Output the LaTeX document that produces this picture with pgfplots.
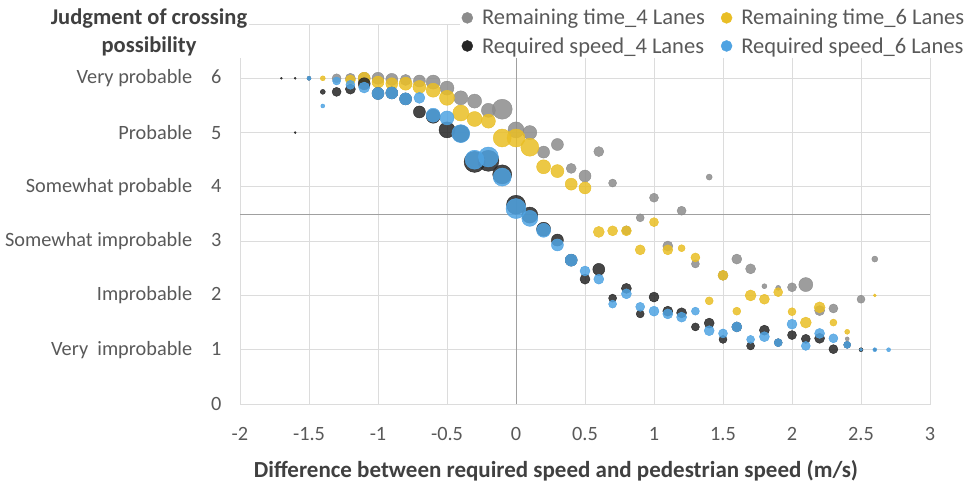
\documentclass[border=0pt]{standalone}
\usepackage{pgfplots}
\pgfplotsset{compat=1.18}
\usepackage{fontspec}
\setmainfont{Carlito}
\definecolor{gfour}{HTML}{8C8C8C}
\definecolor{ysix}{HTML}{E9BE25}
\definecolor{bfour}{HTML}{262626}
\definecolor{lsix}{HTML}{4FA3E2}
\definecolor{txt}{HTML}{595959}
\definecolor{ttl}{HTML}{404040}
\definecolor{grd}{HTML}{DCDCDC}
\definecolor{axl}{HTML}{A0A0A0}
\pgfplotsset{bub/.style={scatter, only marks, mark=*, forget plot, color=#1,
  mark options={draw=none, fill=#1, fill opacity=0.85},
  scatter/use mapped color={draw=none, fill=#1, fill opacity=0.85},
  visualization depends on={\thisrow{r}\as\bubr},
  scatter/@pre marker code/.append style={/tikz/mark size=\bubr pt}}}
\begin{document}
\begin{tikzpicture}[x=1pt,y=1pt]
\useasboundingbox (0,0) rectangle (968,490);
\begin{axis}[at={(240pt,86pt)}, anchor=south west, scale only axis,
  width=690pt, height=380pt, xmin=-2, xmax=3, ymin=0, ymax=7,
  xtick={-2,-1.5,-1,-0.5,0,0.5,1,1.5,2,2.5,3},
  xticklabels={-2,-1.5,-1,-0.5,0,0.5,1,1.5,2,2.5,3},
  ytick={0,1,2,3,4,5,6},
  yticklabels={0,{Very\ \ improbable\hspace{19pt}1},{Improbable\hspace{19pt}2},{Somewhat improbable\hspace{19pt}3},{Somewhat probable\hspace{19pt}4},{Probable\hspace{19pt}5},{Very probable\hspace{19pt}6}},
  ticklabel style={font=\fontsize{20.3}{24}\selectfont, text=txt},
  xticklabel style={yshift=-20pt},
  yticklabel style={xshift=-15pt},
  major tick length=0pt,
  grid=major, major grid style={grd, line width=0.8pt},
  axis line style={grd, line width=0.8pt},
  clip=false,
  legend style={at={(0.318,1.047)}, anchor=north west, draw=none, fill=white,
    font=\fontsize{22.5}{26}\selectfont, text=txt, legend columns=2,
    inner sep=2pt, row sep=9pt, nodes={inner sep=1pt},
    /tikz/every odd column/.style={column sep=8pt},
    /tikz/every even column/.style={column sep=15pt}},
  legend cell align=left,
  legend image code/.code={\fill[#1] (0pt,0pt) circle (5.5pt);},
]
\draw[axl, line width=0.9pt] (axis cs:0,0) -- (axis cs:0,7);
\draw[axl, line width=0.9pt] (axis cs:-2,3.5) -- (axis cs:3,3.5);

\addlegendimage{color=gfour}
\addlegendentry{Remaining time\_4 Lanes}
\addlegendimage{color=ysix}
\addlegendentry{Remaining time\_6 Lanes}
\addlegendimage{color=bfour}
\addlegendentry{Required speed\_4 Lanes}
\addlegendimage{color=lsix}
\addlegendentry{Required speed\_6 Lanes}

% Remaining time_4 Lanes
\addplot[bub=gfour] table {
x y r
-1.3 6.00 4.5
-1.2 6.00 5
-1.1 6.00 6
-1.0 6.00 6
-0.9 5.98 6
-0.8 5.97 5.5
-0.7 5.95 6
-0.6 5.93 7
-0.5 5.82 7
-0.4 5.64 7
-0.3 5.58 7
-0.2 5.41 7
-0.1 5.43 10
0.0 5.05 8
0.1 5.00 7
0.2 4.64 6
0.3 4.78 6
0.4 4.34 5
0.5 4.20 6
0.6 4.65 5
0.7 4.07 4
0.8 3.20 4.5
0.9 3.43 4
1.0 3.80 4.5
1.1 2.91 5
1.2 3.56 4.5
1.3 2.58 4
1.4 4.18 3
1.5 2.37 5
1.6 2.67 5
1.7 2.49 5
1.8 2.17 2.5
1.9 2.14 2.5
2.0 2.15 4.5
2.1 2.20 7
2.2 1.72 5
2.3 1.76 4.5
2.4 1.20 2
2.5 1.93 4
2.6 2.67 3
};
% Remaining time_6 Lanes
\addplot[bub=ysix] table {
x y r
-1.4 6.00 2.5
-1.2 5.97 5
-1.1 6.00 6
-1.0 5.93 6
-0.9 5.90 6
-0.8 5.90 6.5
-0.7 5.84 6.5
-0.6 5.78 7
-0.5 5.64 7.5
-0.4 5.36 8
-0.3 5.25 7.5
-0.2 5.21 7
-0.1 4.90 9
0.0 4.90 9
0.1 4.73 9
0.2 4.37 7
0.3 4.29 6.5
0.4 4.05 6
0.5 3.98 6
0.6 3.17 5.5
0.7 3.19 5
0.8 3.19 5
0.9 2.84 5
1.0 3.35 4.5
1.1 2.84 5
1.2 2.87 3.5
1.3 2.70 4.5
1.4 1.90 4
1.5 2.37 5
1.6 1.71 4
1.7 2.00 5.5
1.8 1.93 5
1.9 2.06 4.5
2.0 1.70 4
2.1 1.50 5.5
2.2 1.78 5.5
2.3 1.50 3.5
2.4 1.33 2.5
2.5 1.00 1.5
2.6 2.00 1.5
};
% Required speed_4 Lanes
\addplot[bub=bfour] table {
x y r
-1.7 6.00 1
-1.6 6.00 1
-1.6 5.00 1
-1.5 6.00 2
-1.4 5.75 2.5
-1.3 5.75 4.5
-1.2 5.80 5
-1.1 5.90 6
-1.0 5.72 6
-0.9 5.73 6
-0.8 5.62 6
-0.7 5.38 6
-0.6 5.30 7
-0.5 5.05 8
-0.4 4.98 8.5
-0.3 4.46 10.5
-0.2 4.48 10.5
-0.1 4.23 9.5
0.0 3.67 9.5
0.1 3.48 8
0.2 3.22 7
0.3 3.02 6
0.4 2.65 6
0.5 2.30 5
0.6 2.48 6
0.7 1.95 4
0.8 2.13 5
0.9 1.66 4
1.0 1.97 5
1.1 1.71 5
1.2 1.68 5
1.3 1.42 4
1.4 1.49 5
1.5 1.19 4
1.6 1.42 5
1.7 1.07 4
1.8 1.36 5
1.9 1.13 4
2.0 1.27 4.5
2.1 1.20 4.5
2.2 1.21 5
2.3 1.01 4.5
2.4 1.09 3.5
2.5 1.00 2
2.6 1.00 1.5
};
% Required speed_6 Lanes
\addplot[bub=lsix] table {
x y r
-1.5 6.00 2
-1.4 5.49 2
-1.3 5.95 4
-1.2 5.88 4.5
-1.1 5.83 5.5
-1.0 5.72 6
-0.9 5.73 6
-0.8 5.62 6
-0.7 5.64 5.5
-0.6 5.32 7
-0.5 5.27 7
-0.4 4.98 9
-0.3 4.50 9.5
-0.2 4.55 10
-0.1 4.18 9
0.0 3.60 10
0.1 3.42 8
0.2 3.20 7
0.3 2.93 6
0.4 2.65 6
0.5 2.45 5
0.6 2.30 5
0.7 1.84 4
0.8 2.03 5
0.9 1.79 4.5
1.0 1.71 5
1.1 1.66 5
1.2 1.60 5
1.3 1.71 4
1.4 1.35 5
1.5 1.30 4.5
1.6 1.42 5
1.7 1.19 4
1.8 1.24 5
1.9 1.13 4
2.0 1.47 5
2.1 1.07 4.5
2.2 1.30 5
2.3 1.21 4.5
2.4 1.09 3.5
2.5 1.00 1.5
2.6 1.00 2
2.7 1.00 2
};
\end{axis}
\node[font=\bfseries\fontsize{22.5}{28}\selectfont, text=ttl, align=center, fill=white, inner sep=2pt] at (149,458) {Judgment of crossing\\possibility};
\node[font=\bfseries\fontsize{23}{26}\selectfont, text=ttl] at (556,19) {Difference between required speed and pedestrian speed (m/s)};
\end{tikzpicture}
\end{document}
